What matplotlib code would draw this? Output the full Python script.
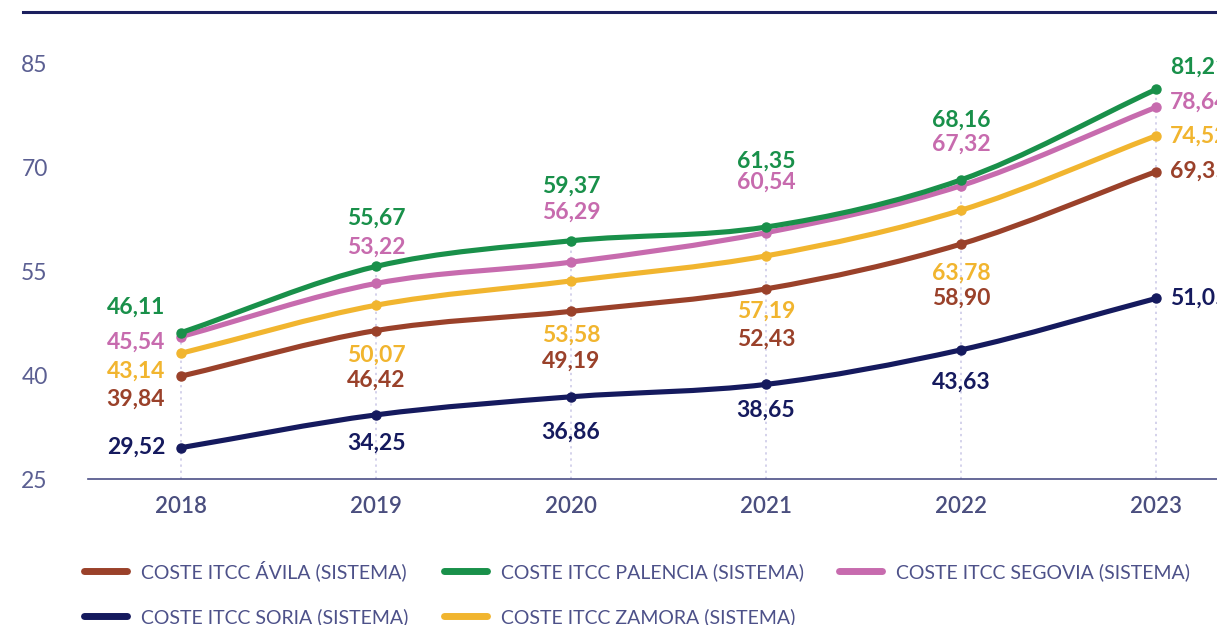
import numpy as np
import matplotlib
matplotlib.use("Agg")
import matplotlib.pyplot as plt
from matplotlib.path import Path
from matplotlib.patches import PathPatch
from matplotlib.lines import Line2D

plt.rcParams['font.family'] = ['Lato', 'DejaVu Sans']

# data
years = ['2018', '2019', '2020', '2021', '2022', '2023']
avila = [39.84, 46.42, 49.19, 52.43, 58.90, 69.35]
palencia = [46.11, 55.67, 59.37, 61.35, 68.16, 81.21]
segovia = [45.54, 53.22, 56.29, 60.54, 67.32, 78.64]
soria = [29.52, 34.25, 36.86, 38.65, 43.63, 51.05]
zamora = [43.14, 50.07, 53.58, 57.19, 63.78, 74.52]
y_ticks = [25, 40, 55, 70, 85]

series = {
    'avila': ('COSTE ITCC ÁVILA (SISTEMA)', avila, '#9a412a'),
    'palencia': ('COSTE ITCC PALENCIA (SISTEMA)', palencia, '#19904a'),
    'segovia': ('COSTE ITCC SEGOVIA (SISTEMA)', segovia, '#c76bae'),
    'soria': ('COSTE ITCC SORIA (SISTEMA)', soria, '#151a5e'),
    'zamora': ('COSTE ITCC ZAMORA (SISTEMA)', zamora, '#f1b52f'),
}

# label offsets in pixels (dx, dy) per year, layout only
label_offsets = {
    'palencia': [(-16, 25), (0, 48), (0, 55), (0, 66), (0, 60), (14, 22)],
    'segovia': [(-16, -6), (0, 36), (0, 50), (0, 50), (0, 41), (14, 5)],
    'zamora': [(-16, -18), (0, -50), (0, -54), (0, -55), (0, -63), (14, 0)],
    'avila': [(-16, -23), (0, -50), (0, -50), (0, -50), (0, -54), (14, 0)],
    'soria': [(-16, 0), (0, -28), (0, -35), (0, -26), (0, -32), (14, 0)],
}


def smooth_path(x, y):
    x = np.asarray(x, float)
    y = np.asarray(y, float)
    n = len(x)
    m = np.zeros(n)
    m[1:-1] = (y[2:] - y[:-2]) / (x[2:] - x[:-2])
    m[0] = y[1] - y[0]
    m[-1] = y[-1] - y[-2]
    verts = [(x[0], y[0])]
    codes = [Path.MOVETO]
    for i in range(n - 1):
        h = x[i + 1] - x[i]
        verts += [(x[i] + h / 3, y[i] + m[i] * h / 3),
                  (x[i + 1] - h / 3, y[i + 1] - m[i + 1] * h / 3),
                  (x[i + 1], y[i + 1])]
        codes += [Path.CURVE4] * 3
    return Path(verts, codes)


fig = plt.figure(figsize=(12.17, 6.25), dpi=100)
ax = fig.add_axes([0.0723, 0.2336, 0.9277, 0.7474])
xs = np.arange(len(years))
ax.set_xlim(-0.477, 5.313)
ax.set_ylim(25, 92.4)

# dotted verticals up to the highest point
tops = np.max([avila, palencia, segovia, soria, zamora], axis=0)
ax.vlines(xs, 25, tops, colors='#c9c6e6', linestyles=(0, (1.5, 2.5)), lw=1.1, zorder=1)

draw_order = ['soria', 'avila', 'zamora', 'segovia', 'palencia']
for key in draw_order:
    name, vals, col = series[key]
    ax.add_patch(PathPatch(smooth_path(xs, vals), fill=False, edgecolor=col,
                           lw=3.7, capstyle='round', joinstyle='round', zorder=3))
    ax.plot(xs, vals, 'o', color=col, ms=6.5, zorder=4)
    for i, v in enumerate(vals):
        dx, dy = label_offsets[key][i]
        ha = 'right' if i == 0 else ('left' if i == len(vals) - 1 else 'center')
        ax.annotate(f'{v:.2f}'.replace('.', ','), (xs[i], v), xytext=(dx, dy),
                    textcoords='offset pixels', ha=ha, va='center',
                    fontsize=16.5, fontweight='bold', color=col,
                    annotation_clip=False, zorder=5)

for s in ['top', 'right', 'left']:
    ax.spines[s].set_visible(False)
ax.spines['bottom'].set_color('#4b4f86')
ax.spines['bottom'].set_linewidth(1.2)
ax.set_xticks(xs)
ax.set_xticklabels(years, fontweight='semibold')
ax.set_yticks(y_ticks)
ax.tick_params(axis='x', length=0, pad=12, labelsize=16, labelcolor='#4a4e7e')
ax.tick_params(axis='y', length=0, pad=29, labelsize=16.5, labelcolor='#5b5f92')

# top rule
fig.add_artist(Line2D([23 / 1217, 1.0], [1 - 12 / 625, 1 - 12 / 625],
                      color='#1b1f5e', lw=2.2))

legend_order = ['avila', 'soria', 'palencia', 'zamora', 'segovia']
handles = [Line2D([], [], color=series[k][2], lw=5, solid_capstyle='round')
           for k in legend_order]
labels = [series[k][0] for k in legend_order]
fig.legend(handles, labels, ncol=3, loc='upper left',
           bbox_to_anchor=(84 / 1217, 1 - 560 / 625), frameon=False,
           fontsize=14, labelcolor='#4d5189', handlelength=2.2,
           handletextpad=0.75, columnspacing=1.8, labelspacing=1.4,
           borderaxespad=0, borderpad=0)

fig.savefig('out.png', dpi=100)
